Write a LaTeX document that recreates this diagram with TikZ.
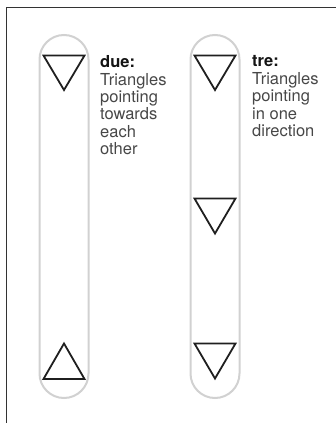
\documentclass[tikz,border=0pt]{standalone}
\usepackage{fontspec}
\setmainfont{TeX Gyre Heros}
\begin{document}
\begin{tikzpicture}[x=1pt,y=-1pt,
  frame/.style={draw=black!80,line width=1pt},
  pill/.style={draw=black!18,line width=2pt},
  tri/.style={draw=black!88,line width=1.8pt,line join=miter},
  label/.style={anchor=north west,inner sep=0pt,align=left,text=black!72,
    font=\fontsize{16.5}{17.2}\selectfont}
]
\useasboundingbox (0,0) rectangle (335,423);
% frame (only top and left edges visible)
\coordinate (ftr) at (336,7.5);
\coordinate (ftl) at (6,7.5);
\coordinate (fbl) at (6,424);
\draw[frame] (ftr) -- (ftl) -- (fbl);
% pills
\draw[pill] (39.5,373.5) -- (39.5,59.5) arc[start angle=180,end angle=360,radius=24.5] -- (88.5,373.5) arc[start angle=0,end angle=180,radius=24.5] -- cycle;
\draw[pill] (190.5,373.5) -- (190.5,59.5) arc[start angle=180,end angle=360,radius=24.5] -- (239.5,373.5) arc[start angle=0,end angle=180,radius=24.5] -- cycle;
% triangles
\draw[tri] (43.5,55.5) -- (84.5,55.5) -- (64,90) -- cycle;
\draw[tri] (43.5,379) -- (84.5,379) -- (64,343.5) -- cycle;
\draw[tri] (194.5,55.5) -- (235.5,55.5) -- (215,90) -- cycle;
\draw[tri] (194.5,198.5) -- (235.5,198.5) -- (215,233.5) -- cycle;
\draw[tri] (194.5,343.5) -- (235.5,343.5) -- (215,378.5) -- cycle;
% labels
\node[label] (due) at (100,55.5) {\textbf{\color{black!92}due:}\\[0.2pt]Triangles\\[0.2pt]pointing\\[0.2pt]towards\\[0.2pt]each\\[0.2pt]other};
\node[label] (tre) at (252,55.5) {\textbf{\color{black!92}tre:}\\[0.2pt]Triangles\\[0.2pt]pointing\\[0.2pt]in one\\[0.2pt]direction};
\end{tikzpicture}
\end{document}
